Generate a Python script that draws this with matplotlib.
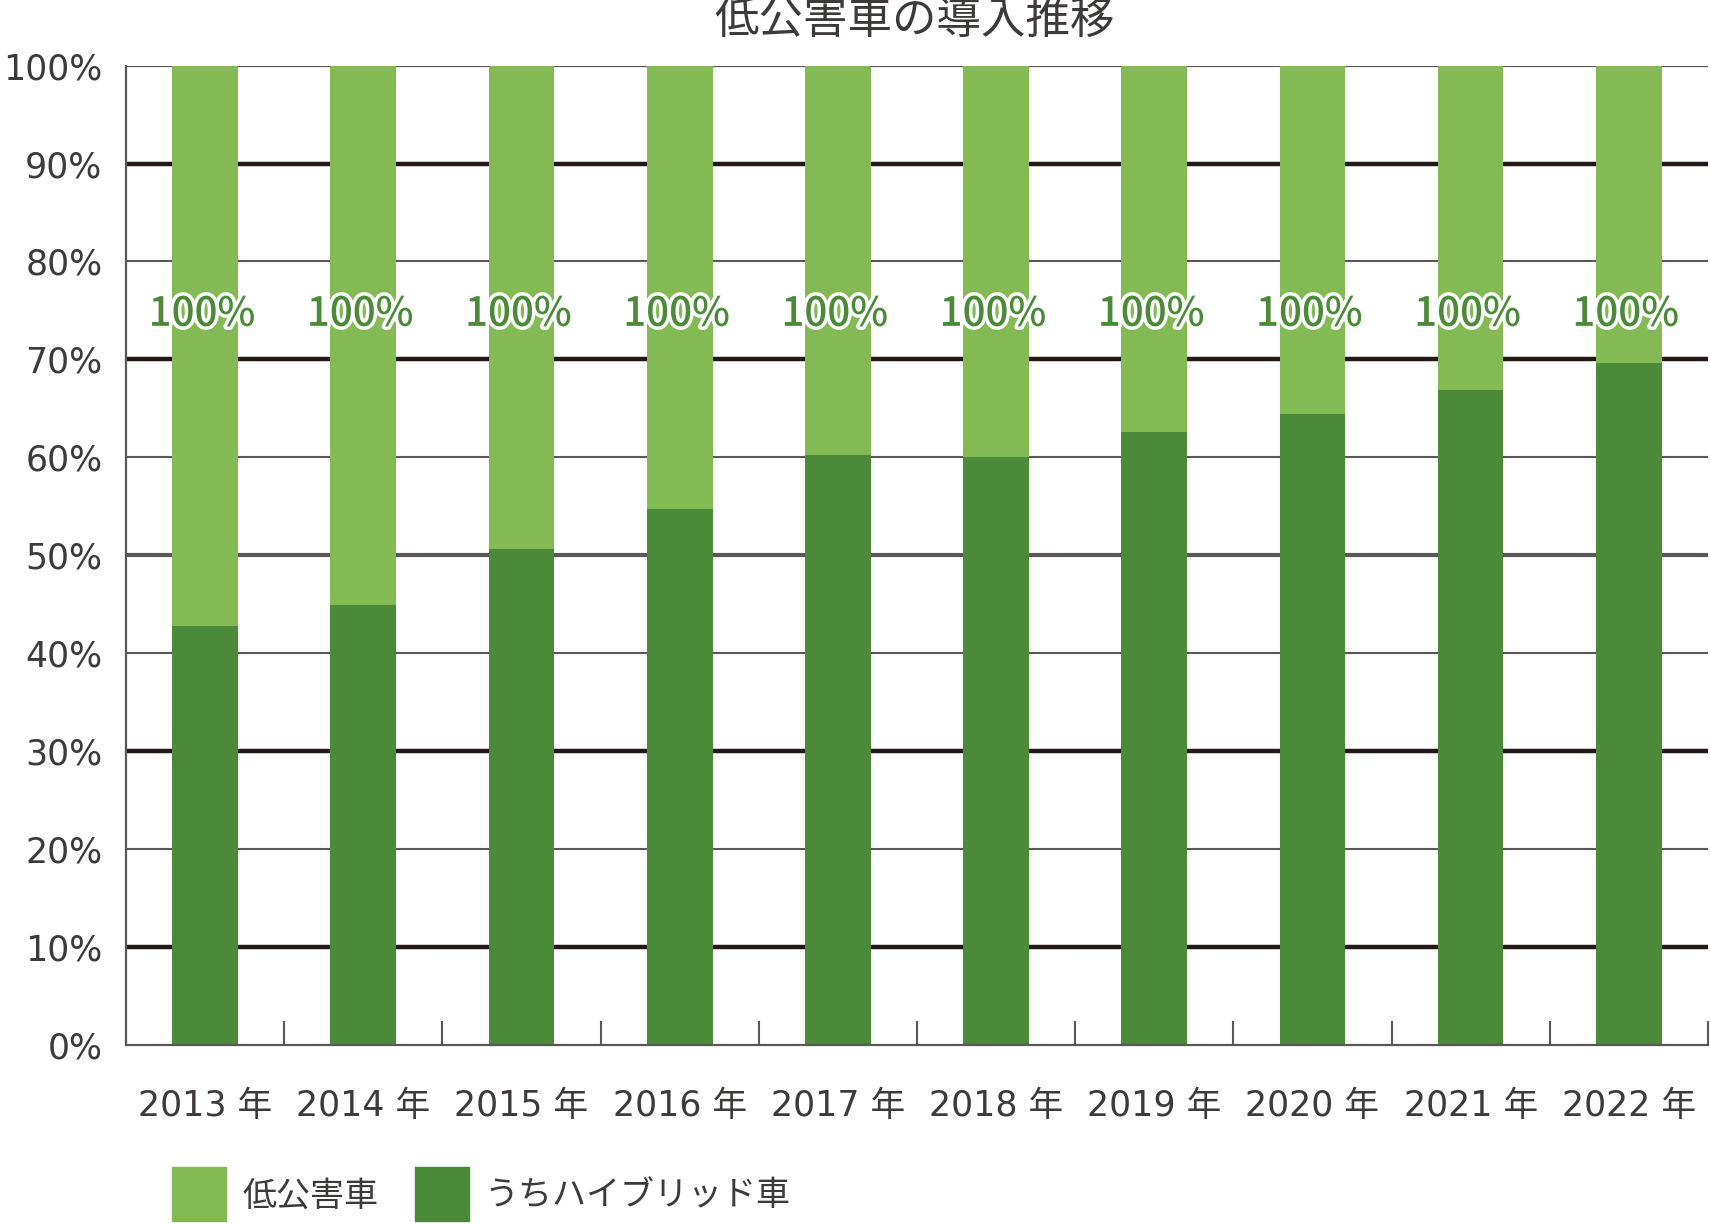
import matplotlib.pyplot as plt
import matplotlib.patheffects as pe
from matplotlib.patches import Rectangle

plt.rcParams['font.family'] = ['Noto Sans CJK JP', 'DejaVu Sans']
num_font = ['DejaVu Sans', 'Noto Sans CJK JP']

# データ
years = ['2013', '2014', '2015', '2016', '2017', '2018', '2019', '2020', '2021', '2022']
hybrid = [42.8, 44.9, 50.6, 54.7, 60.2, 60.0, 62.6, 64.4, 66.9, 69.6]
low_emission = [100, 100, 100, 100, 100, 100, 100, 100, 100, 100]
series_names = ['低公害車', 'うちハイブリッド車']
title = '低公害車の導入推移'

light = '#84ba53'
dark = '#4a8a38'
text_col = '#3e3a39'
grid_dark = '#231815'
grid_gray = '#595757'

fig = plt.figure(figsize=(17.1, 12.23), dpi=100)
ax = fig.add_axes([0.0737, 0.1455, 0.9251, 0.8009])

x = list(range(len(years)))
rest = [t - h for t, h in zip(low_emission, hybrid)]

# グリッド線
for v in range(10, 100, 10):
    if v in (10, 30, 70, 90):
        ax.axhline(v, color=grid_dark, lw=3.2, zorder=1)
    elif v == 50:
        ax.axhline(v, color=grid_gray, lw=3.0, zorder=1)
    else:
        ax.axhline(v, color=grid_gray, lw=1.5, zorder=1)
ax.axhline(100, color=grid_gray, lw=1.6, zorder=1)

w = 0.415
ax.bar(x, hybrid, width=w, color=dark, zorder=2)
ax.bar(x, rest, width=w, bottom=hybrid, color=light, zorder=2)

for i, t in enumerate(low_emission):
    ax.text(i - 0.02, 74.6, f'{t}%', ha='center', va='center', fontsize=29,
            fontweight='medium', color=dark, zorder=3,
            path_effects=[pe.withStroke(linewidth=5, foreground='white')])

ax.set_xlim(-0.5, len(years) - 0.5)
ax.set_ylim(0, 100)

for s in ['top', 'right']:
    ax.spines[s].set_visible(False)
ax.spines['left'].set_color(grid_gray)
ax.spines['left'].set_linewidth(1.6)
ax.spines['bottom'].set_color(grid_gray)
ax.spines['bottom'].set_linewidth(1.6)

ax.set_yticks(range(0, 101, 10))
ax.set_yticklabels([f'{v}%' for v in range(0, 101, 10)], fontsize=25,
                   color=text_col, family=num_font)
ax.tick_params(axis='y', length=0, pad=17)

# 区切り目盛り
ax.set_xticks([i + 0.5 for i in x], minor=True)
ax.tick_params(axis='x', which='minor', direction='in', length=17, width=1.5, color=grid_gray)
ax.set_xticks(x)
ax.set_xticklabels([f'{y} 年' for y in years], fontsize=25, color=text_col,
                   family=num_font)
ax.tick_params(axis='x', which='major', length=0, pad=32)

fig.text(0.535, 0.984, title, ha='center', va='center', fontsize=32, color=text_col)

# 凡例
sq_w = 54 / 1710
sq_h = 54 / 1223
legend_items = [(172, light, 242), (415, dark, 484)]
for (sx, col, tx), name in zip(legend_items, series_names):
    fig.patches.append(Rectangle((sx / 1710, 1 - 1221 / 1223), sq_w, sq_h,
                                 transform=fig.transFigure, color=col))
    fig.text(tx / 1710, 1 - 1196 / 1223, name, ha='left', va='center',
             fontsize=24.5, color=text_col)

fig.savefig('out.png', dpi=100)
